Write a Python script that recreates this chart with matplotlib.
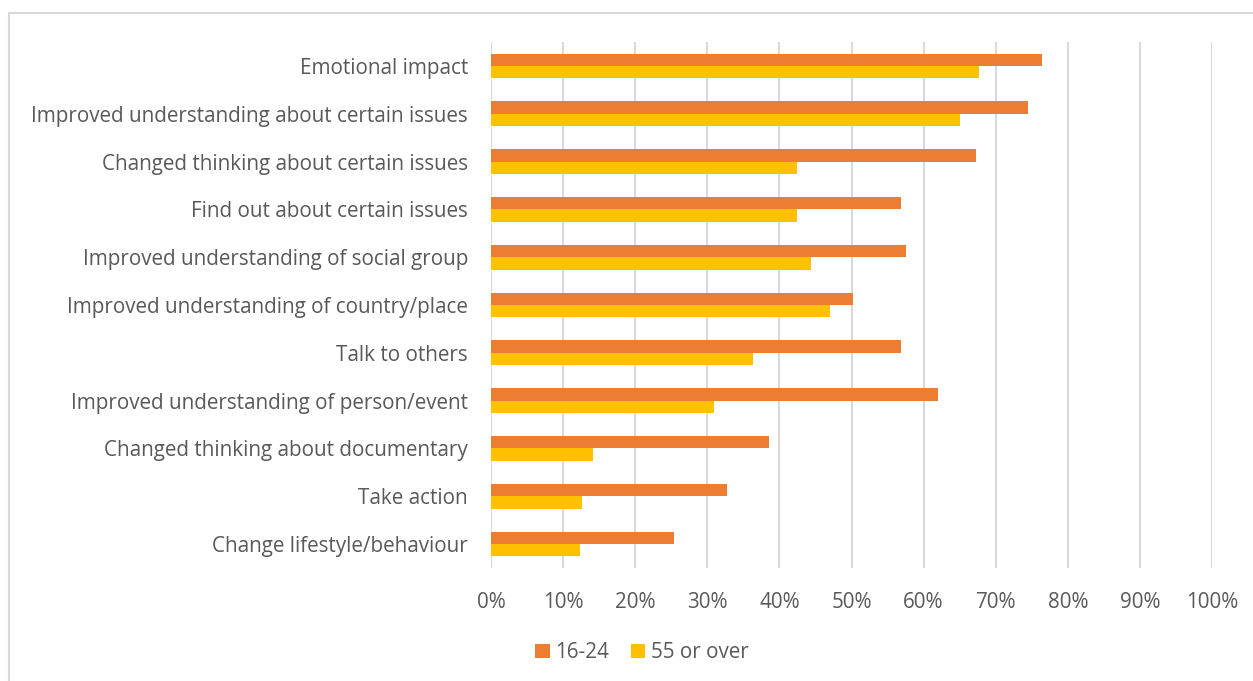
import matplotlib.pyplot as plt
from matplotlib.patches import Rectangle
import numpy as np

# --- data ---
categories = [
    'Emotional impact',
    'Improved understanding about certain issues',
    'Changed thinking about certain issues',
    'Find out about certain issues',
    'Improved understanding of social group',
    'Improved understanding of country/place',
    'Talk to others',
    'Improved understanding of person/event',
    'Changed thinking about documentary',
    'Take action',
    'Change lifestyle/behaviour',
]
young = [76.4, 74.5, 67.3, 56.9, 57.5, 50.2, 56.9, 62.0, 38.5, 32.7, 25.4]
older = [67.7, 65.0, 42.5, 42.5, 44.4, 47.0, 36.4, 30.9, 14.1, 12.6, 12.3]
series_names = ['16-24', '55 or over']
ticks = [0, 10, 20, 30, 40, 50, 60, 70, 80, 90, 100]
tick_labels = [f'{t}%' for t in ticks]

ORANGE = '#ED7D31'
YELLOW = '#FFC000'
TEXT = '#595959'
GRID = '#D9D9D9'
FS = 14.9

plt.rcParams['font.family'] = ['Open Sans', 'DejaVu Sans']

W, H = 1253, 681
fig = plt.figure(figsize=(W / 100, H / 100), dpi=100)

# light gray chart frame (runs off the right and bottom edges)
fig.patches.append(Rectangle((9 / W, -0.2), 1.3, 1 - 12.7 / H + 0.2,
                             transform=fig.transFigure, fill=False,
                             edgecolor=GRID, linewidth=1.5))

ax = fig.add_axes([491 / W, 1 - 568 / H, (1212 - 491) / W, (568 - 42) / H])

y = np.arange(len(categories))
bh = 0.258
ax.barh(y - bh / 2, young, height=bh, color=ORANGE, label=series_names[0], zorder=3)
ax.barh(y + bh / 2, older, height=bh, color=YELLOW, label=series_names[1], zorder=3)

ax.set_xlim(0, 100)
ax.set_ylim(len(categories) - 0.5, -0.5)
ax.set_xticks(ticks)
ax.set_xticklabels(tick_labels)
ax.set_yticks(y)
ax.set_yticklabels(categories)

ax.grid(axis='x', color=GRID, linewidth=1.5, zorder=0)
ax.grid(axis='y', visible=False)
for s in ax.spines.values():
    s.set_visible(False)
ax.tick_params(axis='both', length=0, labelsize=FS, labelcolor=TEXT)
ax.tick_params(axis='y', pad=16.5)
ax.tick_params(axis='x', pad=17)

fig.legend(loc='center', bbox_to_anchor=(642 / W, 1 - 653 / H), ncol=2,
           frameon=False, fontsize=FS, labelcolor=TEXT,
           handlelength=0.68, handleheight=0.68, handletextpad=0.28,
           columnspacing=1.05)

fig.savefig('out.png', dpi=100)
